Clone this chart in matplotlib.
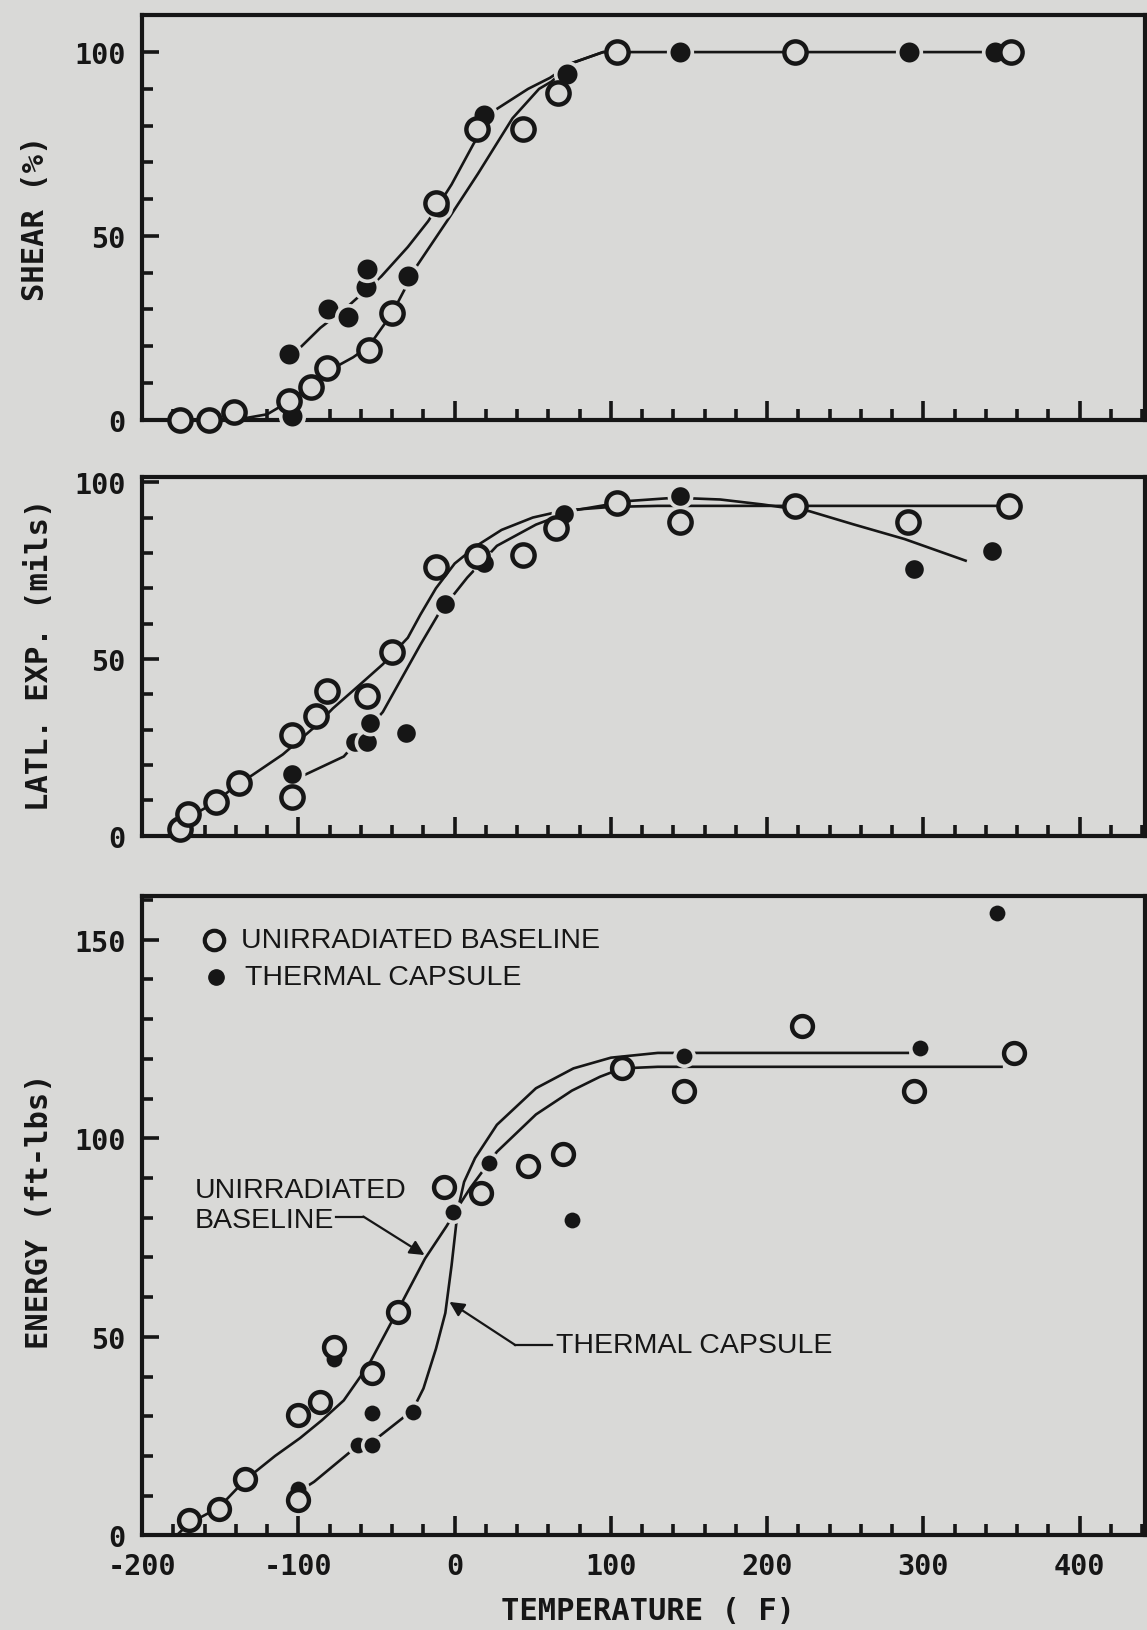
import numpy as np
import matplotlib
matplotlib.use('Agg')
import matplotlib.pyplot as plt
from matplotlib.ticker import MultipleLocator

##### Data #####

# SHEAR (%)
shear_open_t = [-176, -157, -141, -106, -92, -82, -55, -40, -12, 14, 44, 66, 104, 218, 356]
shear_open_v = [0, 0, 2, 5, 9, 14, 19, 29, 59, 79, 79, 89, 100, 100, 100]
shear_fill_t = [-106, -104, -81, -68, -57, -56, -30, -10, 19, 72, 144, 291, 346]
shear_fill_v = [18, 1, 30, 28, 36, 41, 39, 58, 83, 94, 100, 100, 100]
shear_base_t = [-176, -140, -120, -106, -92, -80, -65, -55, -40, -24, -5, 15, 37, 54, 62, 75, 95, 104, 356]
shear_base_v = [0, 0, 1.5, 5, 9.5, 13.5, 17, 20, 29, 42, 54, 67, 82, 90, 92, 97, 100, 100, 100]
shear_cap_t = [-98, -86, -68, -47, -30, -17, -2, 12, 25, 47, 61, 75, 95, 104]
shear_cap_v = [20, 25, 31, 39, 47, 54, 64, 75, 84, 90, 93, 97, 100, 100]

# LATL. EXP. (mils)
latl_open_t = [-176, -171, -153, -138, -104, -104, -89, -82, -56, -40, -12, 14, 44, 65, 104, 144, 218, 290, 355]
latl_open_v = [2, 6, 9.5, 15, 11, 28.5, 34, 41, 39.5, 52, 76, 79, 79.5, 87, 94.2, 88.6, 93.3, 88.6, 93.3]
latl_fill_t = [-104, -64, -56, -54, -31, -6, 19, 70, 144, 294, 344]
latl_fill_v = [17.5, 26.5, 26.5, 32, 29, 65.5, 77, 91, 96, 75.4, 80.6]
latl_base_t = [-182, -171, -153, -138, -130, -110, -89, -78, -60, -46, -30, -22, -12, 0, 14, 30, 50, 70, 100, 130, 355]
latl_base_v = [0, 5, 9.5, 15, 17, 23, 31, 36, 43, 48.5, 56, 62.5, 70, 77, 82, 86.5, 90, 92, 93, 93.3, 93.3]
latl_cap_t = [-97, -71, -46, -22, -10, 8, 27, 52, 76, 112, 141, 170, 197, 227, 255, 288, 327]
latl_cap_v = [17, 22.4, 35, 54, 63, 73, 82, 88, 92, 94.7, 95.6, 95.1, 93.7, 91.8, 88.1, 83.9, 77.8]

# ENERGY (ft-lbs)
energy_open_t = [-170, -151, -134, -100, -100, -86, -77, -53, -36, -7, 17, 47, 69, 107, 147, 222, 294, 358]
energy_open_v = [3.8, 6.7, 14.3, 8.8, 30.3, 33.6, 47.5, 40.8, 56.3, 87.8, 86.1, 92.9, 96, 117.6, 111.8, 128.2, 111.8, 121.4]
energy_fill_t = [-100, -77, -62, -53, -53, -27, -1, 22, 75, 147, 298, 347]
energy_fill_v = [11.8, 44.5, 22.7, 22.7, 30.7, 31, 81.5, 93.7, 79.4, 120.6, 122.7, 156.7]
energy_base_t = [-178, -170, -151, -134, -115, -99, -85, -71, -55, -36, -19, -5, 1, 10, 27, 52, 75, 93, 107, 130, 350]
energy_base_v = [0, 3, 7, 14, 20, 24.5, 29, 34, 43, 57, 69.7, 78, 82, 87.5, 96.6, 106, 112, 115.5, 117.6, 118, 118]
energy_cap_t = [-100, -90, -67, -48, -27, -20, -12, -6, -2, 2, 6, 13, 27, 52, 76, 100, 130, 290]
energy_cap_v = [11, 13.5, 21, 25, 31.5, 37, 47, 56, 68, 82, 89, 95, 103.4, 112.6, 117.6, 120.3, 121.5, 121.5]

xticks = [-200, -100, 0, 100, 200, 300, 400]

###########################################

bg = '#d9d9d7'
ink = '#161616'
tickfont = dict(family='DejaVu Sans Mono', weight='bold', size=20.5)
labfont = dict(family='DejaVu Sans Mono', weight='bold', size=22)
annfont = dict(family='Liberation Sans', size=20.5)

fig = plt.figure(figsize=(11.47, 16.31), dpi=100)
fig.patch.set_facecolor(bg)

L, W = 0.124, 0.8745
ax1 = fig.add_axes([L, 0.742, W, 0.248])
ax2 = fig.add_axes([L, 0.487, W, 0.220])
ax3 = fig.add_axes([L, 0.058, W, 0.392])


def style(ax, ylim, yticks, show_x):
    ax.set_facecolor(bg)
    ax.set_xlim(-200, 442)
    ax.set_ylim(*ylim)
    for s in ax.spines.values():
        s.set_linewidth(3)
        s.set_color(ink)
    ax.xaxis.set_major_locator(MultipleLocator(100))
    ax.xaxis.set_minor_locator(MultipleLocator(20))
    ax.yaxis.set_major_locator(plt.FixedLocator(yticks))
    ax.yaxis.set_minor_locator(MultipleLocator(10))
    ax.tick_params(which='both', direction='in', color=ink, width=2.6,
                   top=False, right=False)
    ax.tick_params(axis='x', which='major', length=14, pad=12)
    ax.tick_params(axis='x', which='minor', length=8)
    ax.tick_params(axis='y', which='major', length=12, pad=12)
    ax.tick_params(axis='y', which='minor', length=8)
    ax.set_yticklabels([str(t) for t in yticks], fontdict=tickfont, color=ink)
    if show_x:
        ax.set_xticks(xticks)
        ax.set_xticklabels([str(t) for t in xticks], fontdict=tickfont, color=ink)
    else:
        ax.set_xticklabels([])


def draw(ax, bt, bv, ct, cv, ot, ov, ft, fv, ms_o, ms_f):
    ax.plot(bt, bv, color=ink, lw=1.9, zorder=2)
    ax.plot(ct, cv, color=ink, lw=1.9, zorder=2)
    ax.plot(ft, fv, 'o', ms=ms_f, mfc=ink, mec=bg, mew=2.6, zorder=3, clip_on=False)
    ax.plot(ot, ov, 'o', ms=ms_o, mfc=bg, mec=ink, mew=3.2, zorder=4, clip_on=False)


style(ax1, (0, 110), [0, 50, 100], False)
draw(ax1, shear_base_t, shear_base_v, shear_cap_t, shear_cap_v,
     shear_open_t, shear_open_v, shear_fill_t, shear_fill_v, 16, 17)

style(ax2, (0, 101.5), [0, 50, 100], False)
draw(ax2, latl_base_t, latl_base_v, latl_cap_t, latl_cap_v,
     latl_open_t, latl_open_v, latl_fill_t, latl_fill_v, 16, 16)

style(ax3, (0, 161), [0, 50, 100, 150], True)
draw(ax3, energy_base_t, energy_base_v, energy_cap_t, energy_cap_v,
     energy_open_t, energy_open_v, energy_fill_t, energy_fill_v, 15, 14)

# legend
ax3.plot([-154], [150], 'o', ms=14, mfc=bg, mec=ink, mew=3)
ax3.text(-137, 150, 'UNIRRADIATED BASELINE', va='center', ha='left', color=ink, **annfont)
ax3.plot([-153], [140.6], 'o', ms=11, mfc=ink, mec=ink)
ax3.text(-134.5, 140.6, 'THERMAL CAPSULE', va='center', ha='left', color=ink, **annfont)

# curve call-outs
ax3.text(-166.5, 86.9, 'UNIRRADIATED', va='center', ha='left', color=ink, **annfont)
ax3.text(-166.5, 79.3, 'BASELINE', va='center', ha='left', color=ink, **annfont)
ax3.plot([-75.7, -58.5], [80.3, 80.3], color=ink, lw=1.6)
ax3.annotate('', xy=(-19.3, 70.6), xytext=(-58.5, 80.3),
             arrowprops=dict(arrowstyle='-|>', color=ink, lw=1.6, mutation_scale=22,
                             shrinkA=0, shrinkB=0))
ax3.text(64.7, 47.9, 'THERMAL CAPSULE', va='center', ha='left', color=ink, **annfont)
ax3.plot([38.9, 62.5], [47.9, 47.9], color=ink, lw=1.6)
ax3.annotate('', xy=(-3.4, 58.8), xytext=(38.9, 47.9),
             arrowprops=dict(arrowstyle='-|>', color=ink, lw=1.6, mutation_scale=22,
                             shrinkA=0, shrinkB=0))

# axis titles
fig.text(36 / 1147, 1 - 218 / 1631, 'SHEAR (%)', rotation=90, ha='center', va='center',
         color=ink, **labfont)
fig.text(40 / 1147, 1 - 655 / 1631, 'LATL. EXP. (mils)', rotation=90, ha='center', va='center',
         color=ink, **labfont)
fig.text(40 / 1147, 1 - 1211 / 1631, 'ENERGY (ft-lbs)', rotation=90, ha='center', va='center',
         color=ink, **labfont)
fig.text(648 / 1147, 1 - 1612 / 1631, 'TEMPERATURE ( F)', ha='center', va='center',
         color=ink, **labfont)

plt.savefig('out.png', dpi=100, facecolor=bg)
